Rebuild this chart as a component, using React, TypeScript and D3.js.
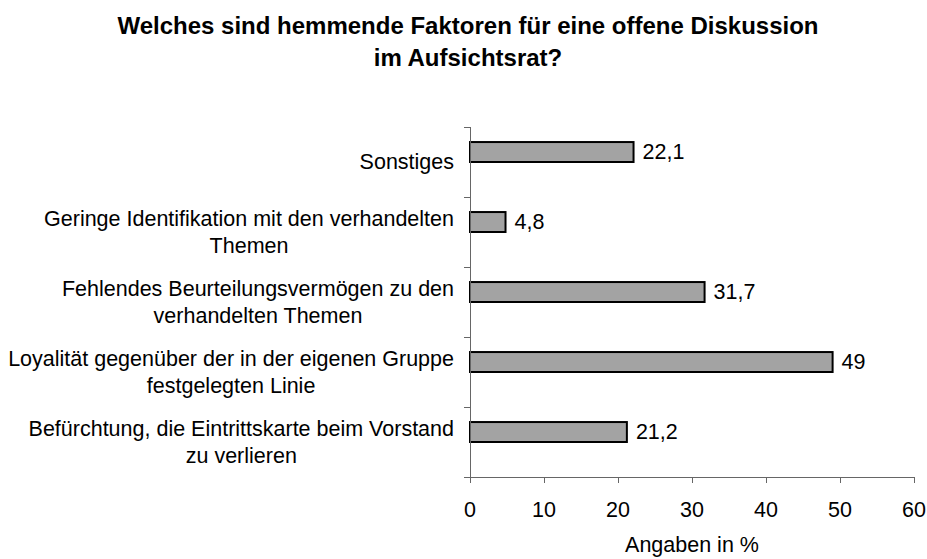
import * as d3 from "d3";

const title = ["Welches sind hemmende Faktoren für eine offene Diskussion", "im Aufsichtsrat?"];

const categories = ["Sonstiges", "Geringe", "Fehlendes", "Loyalitaet", "Befuerchtung"];
const labelLines = [
  ["Sonstiges"],
  ["Geringe Identifikation mit den verhandelten", "Themen"],
  ["Fehlendes Beurteilungsvermögen zu den", "verhandelten Themen"],
  ["Loyalität gegenüber der in der eigenen Gruppe", "festgelegten Linie"],
  ["Befürchtung, die Eintrittskarte beim Vorstand", "zu verlieren"],
];
const values = [22.1, 4.8, 31.7, 49, 21.2];
const valueLabels = ["22,1", "4,8", "31,7", "49", "21,2"];
const xTicks = [0, 10, 20, 30, 40, 50, 60];
const xTitle = "Angaben in %";

const font = "'Liberation Sans', Arial, sans-serif";

let ctx: CanvasRenderingContext2D | null = null;
function textWidth(s: string, size: number) {
  if (!ctx) ctx = document.createElement("canvas").getContext("2d");
  if (!ctx) return s.length * size * 0.5;
  ctx.font = `${size}px 'Liberation Sans'`;
  return ctx.measureText(s).width;
}

export default function App() {
  const width = 927;
  const height = 559;
  const marginLeft = 470;
  const marginRight = 13;
  const marginTop = 127;
  const marginBottom = 82;
  const fs = 21.5;

  const x = d3.scaleLinear([0, 60], [marginLeft, width - marginRight]);
  const y = d3.scaleBand(categories, [marginTop, height - marginBottom]).padding(0);
  const bw = y.bandwidth();
  const axisY = height - marginBottom;

  return (
    <svg width={width} height={height} style={{ position: "absolute", left: 0, top: 0 }} fontFamily={font}>
      <rect width={width} height={height} fill="#fff" />
      <g fontWeight="bold" fontSize={24} textAnchor="middle">
        {title.map((t, i) => (
          <text key={i} x={468} y={34 + i * 32}>{t}</text>
        ))}
      </g>

      {/* bars */}
      {categories.map((c, i) => (
        <rect
          key={c}
          x={x(0)}
          y={(y(c) ?? 0) + bw * 0.215}
          width={x(values[i]) - x(0)}
          height={bw * 0.285}
          fill="#a3a3a3"
          stroke="#000"
          strokeWidth={2}
        />
      ))}

      {/* axes */}
      <g stroke="#666" strokeWidth={1} shapeRendering="crispEdges">
        <line x1={x(0)} x2={x(0)} y1={marginTop} y2={axisY} />
        <line x1={x(0)} x2={x(60)} y1={axisY} y2={axisY} />
        {categories.map((c) => (
          <line key={c} x1={x(0) - 6} x2={x(0)} y1={y(c)} y2={y(c)} />
        ))}
        <line x1={x(0) - 6} x2={x(0)} y1={axisY} y2={axisY} />
        {xTicks.map((t) => (
          <line key={t} x1={x(t)} x2={x(t)} y1={axisY} y2={axisY + 6} />
        ))}
      </g>

      {/* value labels */}
      <g fontSize={fs}>
        {categories.map((c, i) => (
          <text key={c} x={x(values[i]) + 9} y={(y(c) ?? 0) + bw * 0.357 + 7.5}>
            {valueLabels[i]}
          </text>
        ))}
      </g>

      {/* category labels */}
      <g fontSize={fs} textAnchor="middle">
        {categories.map((c, i) => {
          const lines = labelLines[i];
          const maxW = d3.max(lines, (l) => textWidth(l, fs)) ?? 0;
          const cx = x(0) - 16 - maxW / 2;
          const mid = (y(c) ?? 0) + bw / 2;
          return lines.map((l, j) => (
            <text key={c + j} x={cx} y={mid + (j - (lines.length - 1) / 2) * 26.7 + 7.3}>
              {l}
            </text>
          ));
        })}
      </g>

      {/* x tick labels */}
      <g fontSize={fs} textAnchor="middle">
        {xTicks.map((t) => (
          <text key={t} x={x(t)} y={517}>{t}</text>
        ))}
        <text x={(x(0) + x(60)) / 2} y={552}>{xTitle}</text>
      </g>
    </svg>
  );
}
